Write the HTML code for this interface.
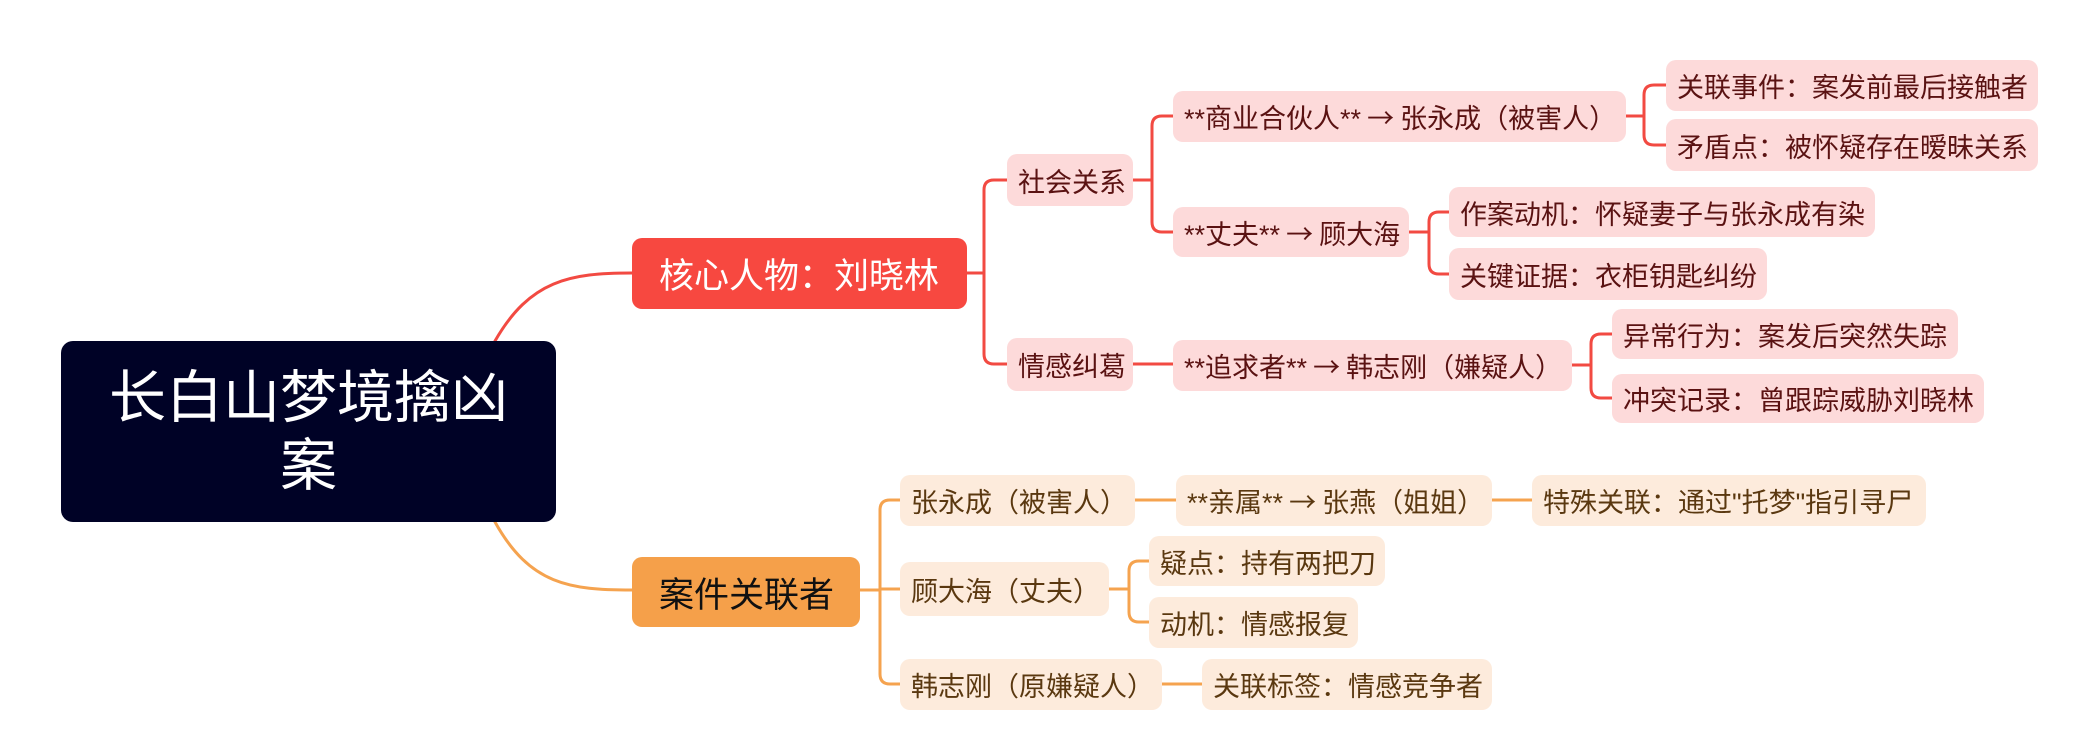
<!DOCTYPE html>
<html><head><meta charset="utf-8"><style>
html,body{margin:0;padding:0;background:#fff;}
body{width:2100px;height:750px;position:relative;overflow:hidden;font-family:"Liberation Sans","Noto Sans CJK SC",sans-serif;}
.n{position:absolute;box-sizing:border-box;display:flex;align-items:center;padding-left:11px;white-space:nowrap;border-radius:10px;font-size:27px;}
.r{background:#fddada;color:#5a1212;}
.o{background:#fdebdc;color:#5a3810;}
.a{font-family:"Noto Sans CJK SC",sans-serif;}
svg{position:absolute;left:0;top:0;}
</style></head><body>
<svg width="2100" height="750" fill="none" stroke-linecap="round" stroke-linejoin="round">
<g stroke="#f24a42" stroke-width="3">
<path d="M495 341 C530 280 570 273 632 273"/>
<path d="M967 273 H984 M1007 180 H994 Q984 180 984 190 V354 Q984 364 994 364 H1007"/>
<path d="M1133 180 H1152 M1173 116 H1162 Q1152 116 1152 126 V222 Q1152 232 1162 232 H1173"/>
<path d="M1133 364 H1173"/>
<path d="M1626 116 H1644 M1666 85 H1654 Q1644 85 1644 95 V135 Q1644 145 1654 145 H1666"/>
<path d="M1409 232 H1429 M1449 212 H1439 Q1429 212 1429 222 V264 Q1429 274 1439 274 H1449"/>
<path d="M1572 365 H1591 M1612 334 H1601 Q1591 334 1591 344 V388 Q1591 398 1601 398 H1612"/>
</g>
<g stroke="#f5a34f" stroke-width="3">
<path d="M495 522 C530 585 570 590 632 590"/>
<path d="M860 590 H880 M900 500 H890 Q880 500 880 510 V674 Q880 684 890 684 H900 M880 589 H900"/>
<path d="M1135 500 H1176"/>
<path d="M1492 500 H1532"/>
<path d="M1109 589 H1129 M1149 561 H1139 Q1129 561 1129 571 V612 Q1129 622 1139 622 H1149"/>
<path d="M1162 684 H1202"/>
</g>
</svg>
<div style="position:absolute;left:61px;top:341px;width:495px;height:181px;background:#000226;border-radius:12px;color:#fff;font-size:57px;line-height:68px;text-align:center;display:flex;align-items:center;justify-content:center;box-sizing:border-box;padding:0 40px;">长白山梦境擒凶案</div>
<div class="n" style="left:632px;top:238px;width:335px;height:71px;background:#f74840;color:#fff;font-size:35px;padding-left:27px;">核心人物：刘晓林</div>
<div class="n" style="left:632px;top:557px;width:228px;height:70px;background:#f5a04a;color:#111;font-size:35px;padding-left:27px;">案件关联者</div>

<div class="n r" style="left:1007px;top:154px;width:126px;height:52px;">社会关系</div>
<div class="n r" style="left:1007px;top:338px;width:126px;height:53px;">情感纠葛</div>
<div class="n r" style="left:1173px;top:91px;width:453px;height:51px;">**商业合伙人** <span class="a">&nbsp;→&nbsp;</span>张永成（被害人）</div>
<div class="n r" style="left:1173px;top:207px;width:236px;height:50px;">**丈夫** <span class="a">&nbsp;→&nbsp;</span>顾大海</div>
<div class="n r" style="left:1173px;top:340px;width:399px;height:51px;">**追求者** <span class="a">&nbsp;→&nbsp;</span>韩志刚（嫌疑人）</div>
<div class="n r" style="left:1666px;top:60px;width:372px;height:51px;">关联事件：案发前最后接触者</div>
<div class="n r" style="left:1666px;top:119px;width:372px;height:52px;">矛盾点：被怀疑存在暧昧关系</div>
<div class="n r" style="left:1449px;top:187px;width:426px;height:50px;">作案动机：怀疑妻子与张永成有染</div>
<div class="n r" style="left:1449px;top:248px;width:318px;height:52px;">关键证据：衣柜钥匙纠纷</div>
<div class="n r" style="left:1612px;top:309px;width:346px;height:50px;">异常行为：案发后突然失踪</div>
<div class="n r" style="left:1612px;top:374px;width:372px;height:49px;">冲突记录：曾跟踪威胁刘晓林</div>

<div class="n o" style="left:900px;top:475px;width:235px;height:51px;">张永成（被害人）</div>
<div class="n o" style="left:900px;top:562px;width:209px;height:54px;">顾大海（丈夫）</div>
<div class="n o" style="left:900px;top:659px;width:262px;height:51px;">韩志刚（原嫌疑人）</div>
<div class="n o" style="left:1176px;top:475px;width:316px;height:51px;">**亲属** <span class="a">&nbsp;→&nbsp;</span>张燕（姐姐）</div>
<div class="n o" style="left:1532px;top:475px;width:394px;height:51px;">特殊关联：通过"托梦"指引寻尸</div>
<div class="n o" style="left:1149px;top:536px;width:236px;height:50px;">疑点：持有两把刀</div>
<div class="n o" style="left:1149px;top:597px;width:209px;height:51px;">动机：情感报复</div>
<div class="n o" style="left:1202px;top:659px;width:290px;height:51px;">关联标签：情感竞争者</div>
</body></html>
